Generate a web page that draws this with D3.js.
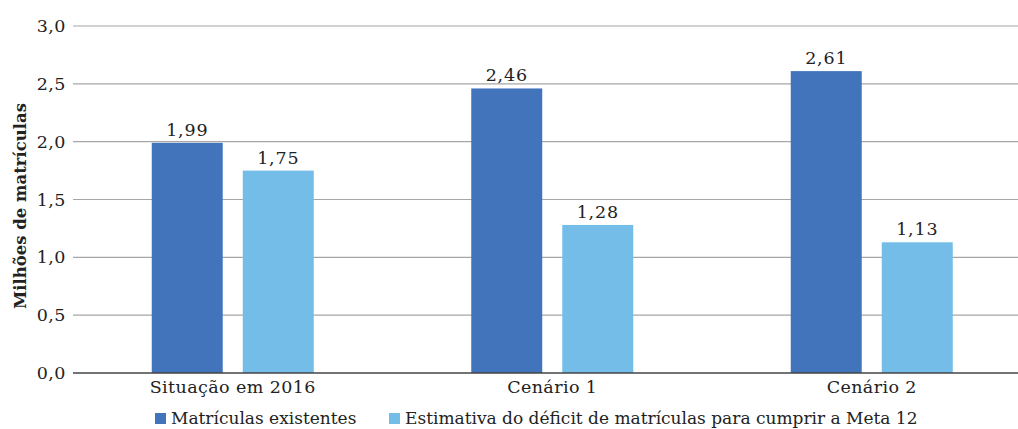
<!DOCTYPE html>
<html>
<head>
<meta charset="utf-8">
<script src="https://cdn.jsdelivr.net/npm/d3@7"></script>
<style>
  html, body { margin: 0; padding: 0; background: #fff; }
  svg { display: block; }
  text { font-family: "DejaVu Serif", serif; fill: #222; }
</style>
</head>
<body>
<svg id="chart" width="1018" height="429"></svg>
<script>
// Categories and series (millions of enrolments)
const categories = ["Situação em 2016", "Cenário 1", "Cenário 2"];
const seriesNames = ["Matrículas existentes", "Estimativa do déficit de matrículas para cumprir a Meta 12"];
const existing = [1.99, 2.46, 2.61];
const deficit = [1.75, 1.28, 1.13];
const yTicks = [0, 0.5, 1.0, 1.5, 2.0, 2.5, 3.0];
const colors = ["#4274bc", "#74bde8"];

const svg = d3.select("#chart");
const fmt = v => d3.format(".2f")(v).replace(".", ",");
const fmtTick = v => d3.format(".1f")(v).replace(".", ",");

const x = d3.scaleBand().domain(categories).range([73, 1031.5]).padding(0);
const y = d3.scaleLinear().domain([0, 3]).range([373, 26]);
const sub = d3.scaleBand().domain([0, 1]).range([-81, 81]).paddingInner(0.22);

// Gridlines
svg.append("g").selectAll("line").data(yTicks.filter(t => t > 0)).join("line")
  .attr("x1", 73).attr("x2", 1018)
  .attr("y1", d => y(d)).attr("y2", d => y(d))
  .attr("stroke", "#a6a6a6").attr("stroke-width", 1.2);

// Y axis tick labels
const yAxis = d3.axisLeft(y).tickValues(yTicks).tickFormat(fmtTick).tickSize(0).tickPadding(7);
const gy = svg.append("g").attr("transform", "translate(73,0)").call(yAxis);
gy.select(".domain").remove();
gy.selectAll("text").style("font-family", "DejaVu Serif, serif").style("font-size", "17.5px")
  .style("letter-spacing", "0.5px").attr("fill", "#222");

// Bars
const rows = categories.map((c, i) => ({ c, vals: [existing[i], deficit[i]] }));
const groups = svg.append("g").selectAll("g").data(rows).join("g")
  .attr("transform", d => `translate(${x(d.c) + x.bandwidth() / 2},0)`);

groups.selectAll("rect").data(d => d.vals.map((v, k) => ({ v, k }))).join("rect")
  .attr("x", d => sub(d.k)).attr("width", sub.bandwidth())
  .attr("y", d => y(d.v)).attr("height", d => y(0) - y(d.v))
  .attr("fill", d => colors[d.k]);

groups.selectAll("text.val").data(d => d.vals.map((v, k) => ({ v, k }))).join("text")
  .attr("class", "val")
  .attr("x", d => sub(d.k) + sub.bandwidth() / 2)
  .attr("y", d => y(d.v) - 7)
  .attr("text-anchor", "middle")
  .style("font-size", "17.5px").style("letter-spacing", "0.8px")
  .text(d => fmt(d.v));

// Baseline
svg.append("line").attr("x1", 73).attr("x2", 1018).attr("y1", y(0)).attr("y2", y(0))
  .attr("stroke", "#444").attr("stroke-width", 1.5);

// X axis labels
const xAxis = d3.axisBottom(x).tickSize(0).tickPadding(8);
const gx = svg.append("g").attr("transform", `translate(0,${y(0)})`).call(xAxis);
gx.select(".domain").remove();
gx.selectAll("text").style("font-family", "DejaVu Serif, serif").style("font-size", "17.5px")
  .style("letter-spacing", "0.4px").attr("fill", "#222");

// Y axis title
svg.append("text")
  .attr("transform", "translate(26,206) rotate(-90)")
  .attr("text-anchor", "middle")
  .style("font-size", "16.5px").style("font-weight", "bold")
  .text("Milhões de matrículas");

// Legend
const legendX = [155, 389];
const legend = svg.append("g").selectAll("g").data(seriesNames).join("g")
  .attr("transform", (d, i) => `translate(${legendX[i]},0)`);
legend.append("rect").attr("x", 0).attr("y", 413).attr("width", 11).attr("height", 11)
  .attr("fill", (d, i) => colors[i]);
legend.append("text").attr("x", 16).attr("y", 424)
  .style("font-size", "17px").text(d => d);
</script>
</body>
</html>
